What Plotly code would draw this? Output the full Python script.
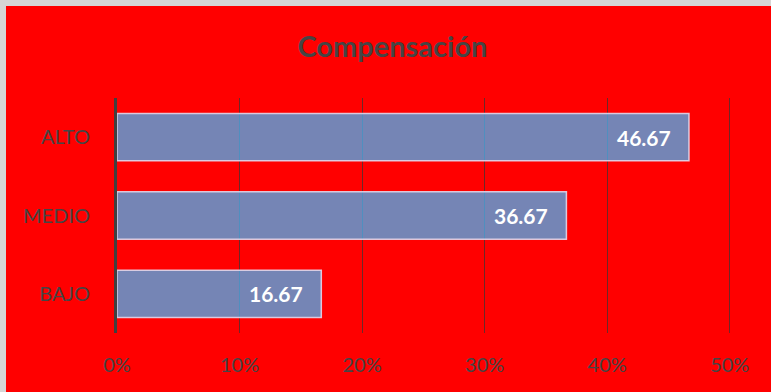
import plotly.graph_objects as go

# Compensation levels and their share (%)
categories = ["ALTO", "MEDIO", "BAJO"]
values = [46.67, 36.67, 16.67]
x_ticks = [0, 10, 20, 30, 40, 50]
x_tick_labels = ["0%", "10%", "20%", "30%", "40%", "50%"]

W, H = 771, 392
L, R, T, B = 117, 40, 98, 59

fig = go.Figure()
fig.add_trace(go.Bar(
    x=values,
    y=categories,
    orientation="h",
    marker=dict(color="rgba(71,177,241,0.75)",
                line=dict(color="rgba(225,215,235,0.9)", width=1.5)),
    hoverinfo="skip",
))

# Value labels inside the bar ends
for cat, v in zip(categories, values):
    fig.add_annotation(
        x=v, y=cat, xref="x", yref="y",
        text=f"<b>{v:.2f}</b>", showarrow=False,
        xanchor="right", yanchor="middle", xshift=-16,
        font=dict(family="Lato", size=21, color="white"),
    )

# Light frame on the left and top edges
fig.add_shape(type="rect", xref="paper", yref="paper",
              x0=-L / (W - L - R), x1=(6 - L) / (W - L - R),
              y0=-0.5, y1=2.0, fillcolor="#d6d6d6", line_width=0, layer="above")
fig.add_shape(type="rect", xref="paper", yref="paper",
              x0=-0.5, x1=1.5,
              y0=(H - B - 6) / (H - T - B), y1=2.0,
              fillcolor="#d6d6d6", line_width=0, layer="above")

fig.update_layout(
    width=W, height=H,
    margin=dict(l=L, r=R, t=T, b=B),
    paper_bgcolor="#ff0000",
    plot_bgcolor="#ff0000",
    bargap=0.395,
    showlegend=False,
    title=dict(text="<b>Compensación</b>", x=0.509, xanchor="center",
               y=1 - 47 / H, yanchor="middle",
               font=dict(family="Lato", size=29, color="#454545")),
    xaxis=dict(
        range=[0, 50.1],
        tickvals=x_ticks,
        ticktext=x_tick_labels,
        showgrid=True,
        gridcolor="rgb(110,40,40)",
        gridwidth=1,
        zeroline=False,
        showline=False,
        ticks="outside", ticklen=14, tickcolor="rgba(0,0,0,0)",
        tickfont=dict(family="Lato", size=20, color="#454545"),
        fixedrange=True,
    ),
    yaxis=dict(
        categoryorder="array",
        categoryarray=categories,
        autorange="reversed",
        showline=True, linewidth=3, linecolor="#404040",
        showgrid=False,
        ticks="outside", ticklen=20, tickcolor="rgba(0,0,0,0)",
        tickfont=dict(family="Lato", size=20, color="#454545"),
        fixedrange=True,
    ),
)

fig.write_html("out.html")
